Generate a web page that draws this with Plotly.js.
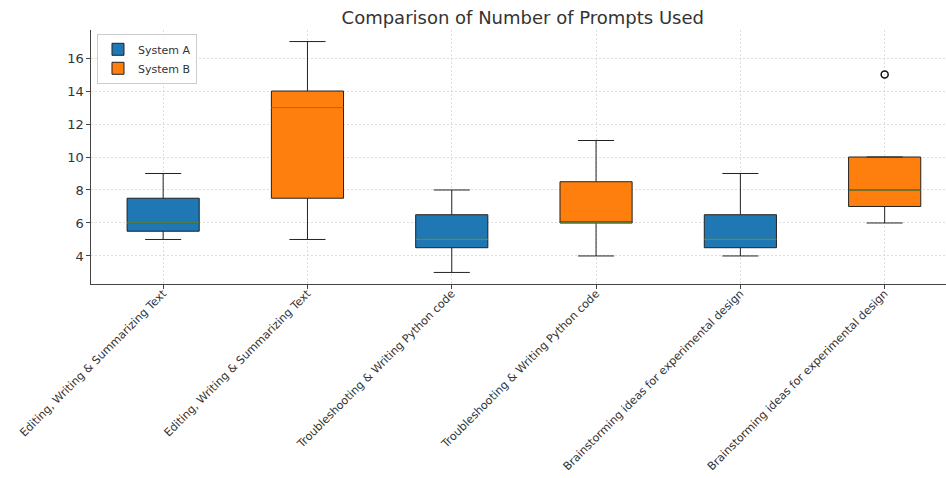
<!DOCTYPE html>
<html><head><meta charset="utf-8">
<script src="https://cdn.plot.ly/plotly-3.0.1.min.js"></script>
<style>html,body{margin:0;padding:0;background:#fff}#chart{width:946px;height:478px}</style>
</head><body><div id="chart"></div>
<script>
const tickLabels = ["Editing, Writing & Summarizing Text","Editing, Writing & Summarizing Text","Troubleshooting & Writing Python code","Troubleshooting & Writing Python code","Brainstorming ideas for experimental design","Brainstorming ideas for experimental design"];
const positions = [0,1,2,3,4,5];
// System A (positions 0,2,4)
const aPos = [0,2,4];
const aLow = [5,3,4];
const aQ1 = [5.5,4.5,4.5];
const aMed = [6,5,5];
const aQ3 = [7.5,6.5,6.5];
const aHigh = [9,8,9];
// System B (positions 1,3,5)
const bPos = [1,3,5];
const bLow = [5,4,6];
const bQ1 = [7.5,6,7];
const bMed = [13,6,8];
const bQ3 = [14,8.5,10];
const bHigh = [17,11,10];
const outX = [5];
const outY = [15];

const lineCol = '#222';
function boxTrace(name, pos, lo, q1, med, q3, hi, color){
  return {type:'box', name:name, x:pos, lowerfence:lo, q1:q1, median:med, q3:q3, upperfence:hi,
    fillcolor:color, line:{color:lineCol, width:1}, width:0.5, whiskerwidth:0.5,
    boxpoints:false, hoverinfo:'skip'};
}
const medX=[], medY=[];
function addMed(pos, med){ pos.forEach((p,i)=>{ medX.push(p-0.25,p+0.25,null); medY.push(med[i],med[i],null); }); }
addMed(aPos,aMed); addMed(bPos,bMed);

const data = [
  boxTrace('System A', aPos, aLow, aQ1, aMed, aQ3, aHigh, '#1f77b4'),
  boxTrace('System B', bPos, bLow, bQ1, bMed, bQ3, bHigh, '#ff7f0e'),
  {type:'scatter', mode:'lines', x:medX, y:medY, line:{color:'#5f8f3a', width:1.2}, showlegend:false, hoverinfo:'skip'},
  {type:'scatter', mode:'markers', x:outX, y:outY, marker:{symbol:'circle-open', size:7, color:'#111', line:{width:1.5}}, showlegend:false, hoverinfo:'skip'}
];

const gridStyle = {gridcolor:'#d4d4d4', griddash:'2px,2px', gridwidth:0.8};
const layout = {
  width:946, height:478,
  margin:{l:91, r:0, t:30, b:194},
  paper_bgcolor:'#fff', plot_bgcolor:'#fff',
  font:{family:'DejaVu Sans', color:'#333'},
  title:{text:'Comparison of Number of Prompts Used', xref:'paper', x:0.505, xanchor:'center', y:0.963, yanchor:'middle', font:{size:18, color:'#333'}},
  boxmode:'overlay',
  showlegend:true,
  legend:{x:0.007, y:0.985, xanchor:'left', yanchor:'top', bgcolor:'rgba(255,255,255,0.85)', bordercolor:'#ccc', borderwidth:1, font:{size:11, color:'#333'}, tracegroupgap:0, itemwidth:30},
  xaxis:Object.assign({range:[-0.5,5.425], tickmode:'array', tickvals:positions, ticktext:tickLabels, tickangle:-45,
    tickfont:{size:11.2, color:'#333'}, ticklabelstandoff:-6, showline:true, linecolor:'#444', linewidth:1.2, ticks:'outside', ticklen:3.5, tickcolor:'#444', zeroline:false, showgrid:true}, gridStyle),
  yaxis:Object.assign({range:[2.3,17.7], tickmode:'array', tickvals:[4,6,8,10,12,14,16], tickfont:{size:13, color:'#333'},
    showline:true, linecolor:'#444', linewidth:1.2, ticks:'outside', ticklen:3.5, tickcolor:'#444', zeroline:false, showgrid:true}, gridStyle)
};
Plotly.newPlot('chart', data, layout, {displayModeBar:false, staticPlot:true});
</script></body></html>
